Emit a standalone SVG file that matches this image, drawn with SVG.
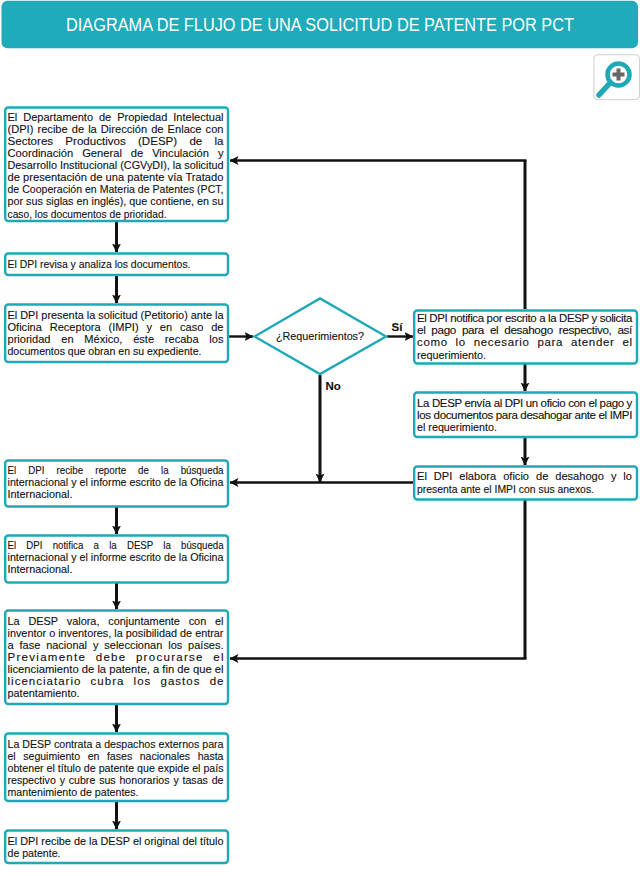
<svg xmlns="http://www.w3.org/2000/svg" width="640" height="876" viewBox="0 0 640 876">
<style>
text{font-family:"Liberation Sans",Arial,sans-serif;fill:#111;font-size:11.5px;stroke:#111;stroke-width:.12}
.b{fill:#fff;stroke:#1fa9b8;stroke-width:2.4}
.c{fill:none;stroke:#111;stroke-width:3}
.h{fill:none;stroke:#111;stroke-width:2.4}
.l{font-weight:bold;font-size:11.5px}
.t{letter-spacing:-.35px}
</style>
<defs><marker id="a" markerUnits="userSpaceOnUse" markerWidth="9" markerHeight="10" refX="8.500" refY="5" orient="auto"><path d="M0 0.500L9 5L0 9.500L2 5Z" fill="#111"/></marker></defs>
<g id="titulo"><rect x="1.500" y="0.800" width="636.500" height="47.500" rx="6" fill="#1fabb9"/><text x="320" y="31" text-anchor="middle" textLength="508" lengthAdjust="spacingAndGlyphs" style="font-size:18px;fill:#fff;stroke:none">DIAGRAMA DE FLUJO DE UNA SOLICITUD DE PATENTE POR PCT</text></g>
<g id="lupa"><rect x="594" y="54.700" width="45.500" height="45" rx="4" fill="#fff" stroke="#cfcfcf"/><circle cx="618.500" cy="74.500" r="11" fill="#fff" stroke="#1fa9b8" stroke-width="4.500"/><path d="M610 83L599 95" stroke="#1fa9b8" stroke-width="5.500" stroke-linecap="round"/><path d="M618.500 68.500V80.500M612.500 74.500H624.500" stroke="#666" stroke-width="4"/></g>
<g id="conectores">
<path class="c" marker-end="url(#a)" d="M116.500 222V252"/>
<path class="c" marker-end="url(#a)" d="M116.500 276V303"/>
<path class="h" marker-end="url(#a)" d="M229 336.500H253"/>
<path class="h" marker-end="url(#a)" d="M387 336.500H413"/>
<path class="c" marker-end="url(#a)" d="M320 375V482"/>
<path class="c" d="M525 309V160.500"/><path class="h" marker-end="url(#a)" d="M526.500 160.500H230"/>
<path class="c" marker-end="url(#a)" d="M525 364V391"/>
<path class="c" marker-end="url(#a)" d="M525 438V465"/>
<path class="h" marker-end="url(#a)" d="M413 482.500H230"/>
<path class="c" d="M525 500V658.500"/><path class="h" marker-end="url(#a)" d="M526.500 658.500H230"/>
<path class="c" marker-end="url(#a)" d="M116.500 507V534"/>
<path class="c" marker-end="url(#a)" d="M116.500 583V609"/>
<path class="c" marker-end="url(#a)" d="M116.500 705V732"/>
<path class="c" marker-end="url(#a)" d="M116.500 802V829"/>
</g>
<g id="n1"><rect class="b" x="5.200" y="107.500" width="222.800" height="113.500" rx="3"/>
<text x="7.500" y="120.700" textLength="216" lengthAdjust="spacingAndGlyphs" word-spacing="3">El Departamento de Propiedad Intelectual</text>
<text x="7.500" y="132.800" textLength="216" lengthAdjust="spacingAndGlyphs" word-spacing="1">(DPI) recibe de la Dirección de Enlace con</text>
<text x="7.500" y="144.900" textLength="216" lengthAdjust="spacingAndGlyphs" word-spacing="9">Sectores Productivos (DESP)  de la</text>
<text x="7.500" y="157" textLength="216" lengthAdjust="spacingAndGlyphs" word-spacing="6">Coordinación General de Vinculación y</text>
<text x="7.500" y="169.100" textLength="216" lengthAdjust="spacingAndGlyphs">Desarrollo Institucional (CGVyDI), la solicitud</text>
<text x="7.500" y="181.200" textLength="216" lengthAdjust="spacingAndGlyphs">de presentación de una patente vía Tratado</text>
<text x="7.500" y="193.300" textLength="216" lengthAdjust="spacingAndGlyphs">de Cooperación en Materia de Patentes (PCT,</text>
<text x="7.500" y="205.400" textLength="216" lengthAdjust="spacingAndGlyphs">por sus siglas en inglés), que contiene, en su</text>
<text x="7.500" y="217.500" textLength="159" lengthAdjust="spacingAndGlyphs">caso, los documentos de prioridad.</text></g>
<g id="n2"><rect class="b" x="5.200" y="253.500" width="222.800" height="21.500" rx="3"/><text x="7.500" y="267.500" textLength="183" lengthAdjust="spacingAndGlyphs">El DPI revisa y analiza los documentos.</text></g>
<g id="n3"><rect class="b" x="5.200" y="304.500" width="222.800" height="57.500" rx="3"/>
<text x="7.500" y="318.700" textLength="216" lengthAdjust="spacingAndGlyphs">El DPI presenta la solicitud (Petitorio) ante la</text>
<text x="7.500" y="330.800" textLength="216" lengthAdjust="spacingAndGlyphs" word-spacing="5">Oficina Receptora (IMPI) y en caso de</text>
<text x="7.500" y="342.900" textLength="216" lengthAdjust="spacingAndGlyphs" word-spacing="8">prioridad en México, éste recaba los</text>
<text x="7.500" y="355" textLength="194" lengthAdjust="spacingAndGlyphs">documentos que obran en su expediente.</text></g>
<g id="d1"><path d="M254.500 336.500L320 298.500L386 336.500L320 374Z" fill="#fff" stroke="#1fa9b8" stroke-width="2.400"/><text x="320" y="340.300" text-anchor="middle" textLength="88" lengthAdjust="spacingAndGlyphs">¿Requerimientos?</text></g>
<text class="l" x="391.500" y="331">Sí</text><text class="l" x="325.500" y="390">No</text>
<g id="n4"><rect class="b" x="414.200" y="310.500" width="222.800" height="53" rx="3"/>
<text class="t" x="417" y="322" textLength="215" lengthAdjust="spacingAndGlyphs">El DPI notifica por escrito a la DESP y solicita</text>
<text class="t" x="417" y="334.200" textLength="215" lengthAdjust="spacingAndGlyphs" word-spacing="3">el pago para el desahogo respectivo, así</text>
<text x="417" y="346.400" textLength="215" word-spacing="4">como lo necesario para atender el</text>
<text x="417" y="358.600" textLength="69" lengthAdjust="spacingAndGlyphs">requerimiento.</text></g>
<g id="n5"><rect class="b" x="414.200" y="392.500" width="222.800" height="44.500" rx="3"/>
<text class="t" x="417" y="406.700" textLength="215" lengthAdjust="spacingAndGlyphs">La DESP envía al DPI un oficio con el pago y</text>
<text class="t" x="417" y="418.800" textLength="215" lengthAdjust="spacingAndGlyphs">los documentos para desahogar ante el IMPI</text>
<text x="417" y="430.900" textLength="80" lengthAdjust="spacingAndGlyphs">el requerimiento.</text></g>
<g id="n6"><rect class="b" x="414.200" y="466.500" width="222.800" height="33" rx="3"/>
<text x="417" y="480.300" textLength="215" lengthAdjust="spacingAndGlyphs" word-spacing="4">El DPI elabora oficio de desahogo y lo</text>
<text x="417" y="492.500" textLength="177" lengthAdjust="spacingAndGlyphs">presenta ante el IMPI con sus anexos.</text></g>
<g id="n7"><rect class="b" x="5.200" y="460.500" width="222.800" height="46" rx="3"/>
<text x="7.500" y="474.200" textLength="216" lengthAdjust="spacingAndGlyphs" word-spacing="11">El DPI recibe reporte de la búsqueda</text>
<text x="7.500" y="486.300" textLength="216" lengthAdjust="spacingAndGlyphs">internacional y el informe escrito de la Oficina</text>
<text x="7.500" y="498.400" textLength="65" lengthAdjust="spacingAndGlyphs">Internacional.</text></g>
<g id="n8"><rect class="b" x="5.200" y="535.500" width="222.800" height="47" rx="3"/>
<text x="7.500" y="549.200" textLength="216" lengthAdjust="spacingAndGlyphs" word-spacing="9">El DPI notifica a la DESP la búsqueda</text>
<text x="7.500" y="561.300" textLength="216" lengthAdjust="spacingAndGlyphs">internacional y el informe escrito de la Oficina</text>
<text x="7.500" y="573.400" textLength="65" lengthAdjust="spacingAndGlyphs">Internacional.</text></g>
<g id="n9"><rect class="b" x="5.200" y="610.500" width="222.800" height="93.500" rx="3"/>
<text x="7.500" y="624.700" textLength="216" lengthAdjust="spacingAndGlyphs" word-spacing="6">La DESP valora, conjuntamente con el</text>
<text x="7.500" y="636.700" textLength="216" lengthAdjust="spacingAndGlyphs">inventor o inventores, la posibilidad de entrar</text>
<text x="7.500" y="648.700" textLength="216" lengthAdjust="spacingAndGlyphs" word-spacing="3">a fase nacional y seleccionan los países.</text>
<text x="7.500" y="660.700" textLength="216" word-spacing="5">Previamente debe procurarse el</text>
<text x="7.500" y="672.700" textLength="216" lengthAdjust="spacingAndGlyphs">licenciamiento de la patente, a fin de que el</text>
<text x="7.500" y="684.700" textLength="216" word-spacing="5">licenciatario cubra los gastos de</text>
<text x="7.500" y="696.700" textLength="72" lengthAdjust="spacingAndGlyphs">patentamiento.</text></g>
<g id="n10"><rect class="b" x="5.200" y="733.500" width="222.800" height="67.500" rx="3"/>
<text x="7.500" y="747.700" textLength="216" lengthAdjust="spacingAndGlyphs">La DESP contrata a despachos externos para</text>
<text x="7.500" y="759.800" textLength="216" lengthAdjust="spacingAndGlyphs" word-spacing="5">el seguimiento en fases nacionales hasta</text>
<text x="7.500" y="771.900" textLength="216" lengthAdjust="spacingAndGlyphs">obtener el título de patente que expide el país</text>
<text x="7.500" y="784" textLength="216" lengthAdjust="spacingAndGlyphs" word-spacing="1">respectivo y cubre sus honorarios y tasas de</text>
<text x="7.500" y="796.100" textLength="131" lengthAdjust="spacingAndGlyphs">mantenimiento de patentes.</text></g>
<g id="n11"><rect class="b" x="5.200" y="830.500" width="222.800" height="32.500" rx="3"/>
<text x="7.500" y="845" textLength="216" lengthAdjust="spacingAndGlyphs">El DPI recibe de la DESP el original del título</text>
<text x="7.500" y="857.100" textLength="53" lengthAdjust="spacingAndGlyphs">de patente.</text></g>
</svg>
